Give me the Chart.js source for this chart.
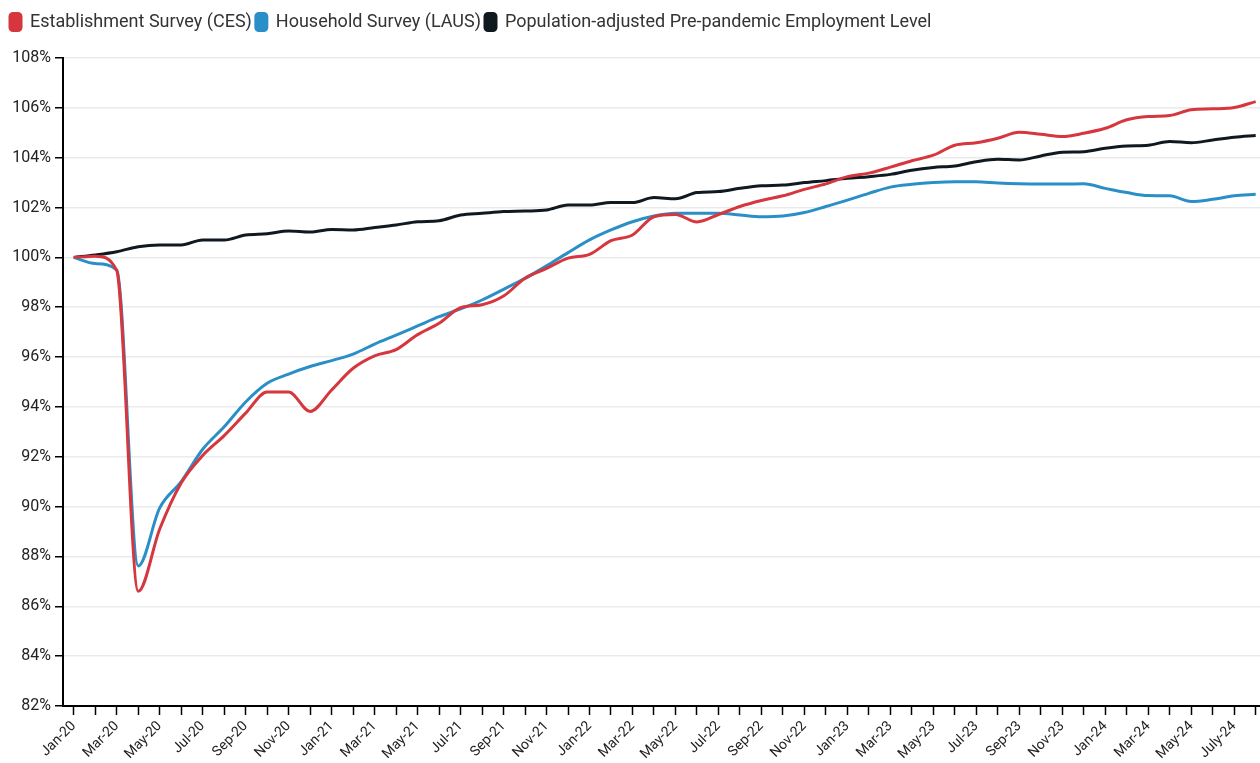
<!DOCTYPE html>
<html>
<head>
<meta charset="utf-8">
<script src="https://cdn.jsdelivr.net/npm/chart.js@4.4.1/dist/chart.umd.min.js"></script>
<style>
  html, body { margin: 0; padding: 0; background: #fff; }
  #wrap { width: 1260px; height: 763px; position: relative; }
</style>
</head>
<body>
<div id="wrap"><canvas id="empChart"></canvas></div>
<script>
const months = [
    'Jan-20', 'Feb-20', 'Mar-20', 'Apr-20', 'May-20', 'Jun-20', 'Jul-20', 'Aug-20', 'Sep-20', 'Oct-20', 'Nov-20', 'Dec-20',
    'Jan-21', 'Feb-21', 'Mar-21', 'Apr-21', 'May-21', 'Jun-21', 'Jul-21', 'Aug-21', 'Sep-21', 'Oct-21', 'Nov-21', 'Dec-21',
    'Jan-22', 'Feb-22', 'Mar-22', 'Apr-22', 'May-22', 'Jun-22', 'Jul-22', 'Aug-22', 'Sep-22', 'Oct-22', 'Nov-22', 'Dec-22',
    'Jan-23', 'Feb-23', 'Mar-23', 'Apr-23', 'May-23', 'Jun-23', 'Jul-23', 'Aug-23', 'Sep-23', 'Oct-23', 'Nov-23', 'Dec-23',
    'Jan-24', 'Feb-24', 'Mar-24', 'Apr-24', 'May-24', 'Jun-24', 'July-24', 'Aug-24'
];

// % of Jan-2020 level
const ces = [
    100.0, 100.05, 99.47, 86.6, 89.1, 90.95, 92.05, 92.85, 93.75, 94.6, 94.6, 93.82,
    94.68, 95.55, 96.05, 96.3, 96.9, 97.36, 97.98, 98.1, 98.45, 99.16, 99.56, 99.97,
    100.12, 100.67, 100.9, 101.63, 101.72, 101.42, 101.72, 102.04, 102.28, 102.47, 102.73, 102.95,
    103.24, 103.38, 103.62, 103.88, 104.1, 104.5, 104.6, 104.78, 105.02, 104.94, 104.85, 104.98,
    105.18, 105.52, 105.65, 105.69, 105.92, 105.96, 106.01, 106.25
];

const laus = [
    100.0, 99.75, 99.5, 87.62, 89.95, 91.0, 92.3, 93.2, 94.2, 94.95, 95.32, 95.62,
    95.86, 96.12, 96.52, 96.88, 97.25, 97.62, 97.93, 98.29, 98.72, 99.16, 99.66, 100.19,
    100.7, 101.1, 101.43, 101.66, 101.77, 101.77, 101.77, 101.7, 101.63, 101.66, 101.8, 102.04,
    102.3, 102.57, 102.82, 102.93, 103.0, 103.03, 103.03, 102.98, 102.95, 102.94, 102.94, 102.95,
    102.77, 102.6, 102.48, 102.47, 102.24, 102.33, 102.47, 102.53
];

const prePandemic = [
    100.0, 100.1, 100.23, 100.43, 100.5, 100.5, 100.7, 100.7, 100.9, 100.95, 101.06, 101.02,
    101.12, 101.1, 101.2, 101.3, 101.43, 101.47, 101.7, 101.77, 101.84, 101.86, 101.9, 102.1,
    102.1, 102.2, 102.2, 102.4, 102.35, 102.6, 102.64, 102.77, 102.87, 102.9, 103.0, 103.08,
    103.17, 103.24, 103.33, 103.5, 103.61, 103.67, 103.84, 103.94, 103.91, 104.07, 104.22, 104.24,
    104.38, 104.47, 104.5, 104.65, 104.6, 104.71, 104.82, 104.89
];

const yTicks = [82, 84, 86, 88, 90, 92, 94, 96, 98, 100, 102, 104, 106, 108];

function toPoints(values) {
    return values.map((v, i) => ({ x: i, y: v }));
}

function makeSeries(label, values, color) {
    return {
        label: label,
        data: toPoints(values),
        borderColor: color,
        backgroundColor: color,
        borderWidth: 3,
        pointRadius: 0,
        fill: false,
        cubicInterpolationMode: 'monotone'
    };
}

// extra room under the legend
const legendGap = {
    id: 'legendGap',
    beforeInit(chart) {
        const fit = chart.legend.fit;
        chart.legend.fit = function () {
            fit.bind(chart.legend)();
            this.height += 17;
        };
    }
};

const ctx = document.getElementById('empChart').getContext('2d');
const chart = new Chart(ctx, {
    type: 'line',
    data: {
        datasets: [
            makeSeries('Establishment Survey (CES)', ces, '#d6363d'),
            makeSeries('Household Survey (LAUS)', laus, '#2a8fc7'),
            makeSeries('Population-adjusted Pre-pandemic Employment Level', prePandemic, '#111920')
        ]
    },
    plugins: [legendGap],
    options: {
        responsive: true,
        maintainAspectRatio: false,
        animation: false,
        layout: { padding: { top: 9, right: 0, left: 6, bottom: 0 } },
        plugins: {
            tooltip: { enabled: false },
            legend: {
                position: 'top',
                align: 'start',
                labels: {
                    boxWidth: 11,
                    boxHeight: 17,
                    useBorderRadius: true,
                    borderRadius: 3,
                    padding: 4,
                    color: '#333',
                    font: { family: 'Roboto', size: 18 }
                }
            }
        },
        scales: {
            x: {
                type: 'linear',
                min: -0.5,
                max: 55.2,
                grid: {
                    drawOnChartArea: false,
                    drawTicks: true,
                    tickLength: 9,
                    tickColor: '#000',
                    tickWidth: 1.5
                },
                border: { color: '#000', width: 2 },
                ticks: {
                    stepSize: 1,
                    maxTicksLimit: 100,
                    includeBounds: false,
                    autoSkip: false,
                    maxRotation: 45,
                    minRotation: 45,
                    color: '#222',
                    font: { family: 'Roboto', size: 14 },
                    callback: (value) => (Number.isInteger(value) && value % 2 === 0) ? months[value] : ''
                },
                afterFit: (scale) => {
                    scale.height = 57;
                    scale.paddingRight = 0;
                    scale.paddingLeft = 0;
                }
            },
            y: {
                min: yTicks[0],
                max: yTicks[yTicks.length - 1],
                grid: {
                    color: '#ebebeb',
                    lineWidth: 1.5,
                    tickColor: '#000',
                    tickLength: 8,
                    tickWidth: 1.5
                },
                border: { color: '#000', width: 2 },
                ticks: {
                    stepSize: 2,
                    padding: 4,
                    color: '#222',
                    font: { family: 'Roboto', size: 16 },
                    callback: (value) => value + '%'
                },
                afterFit: (scale) => { scale.width = 57; }
            }
        }
    }
});
</script>
</body>
</html>
